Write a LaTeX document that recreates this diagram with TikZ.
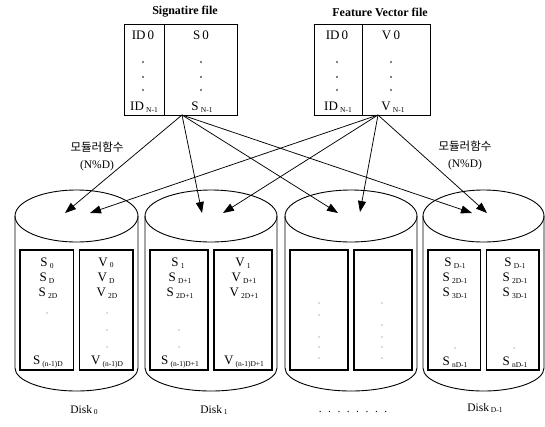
\documentclass[tikz,border=0pt]{standalone}
\usepackage{fontspec}
\setmainfont{Liberation Serif}
\newfontfamily\krfont{Noto Sans CJK KR}
\usetikzlibrary{arrows.meta}
% small lowered index written after a letter
\newcommand\lowsub[1]{\,\raisebox{-1.5pt}{\fontsize{7.5}{7.5}\selectfont #1}}

\begin{document}
\begin{tikzpicture}[x=1pt,y=-1pt,
  txt/.style={font=\fontsize{13}{13}\selectfont, inner sep=0pt},
  ttl/.style={font=\fontsize{12}{12}\selectfont\bfseries, inner sep=0pt},
  lbl/.style={font=\fontsize{11.5}{11.5}\selectfont, inner sep=0pt},
  kr/.style={font=\fontsize{11.5}{17}\selectfont, inner sep=0pt, align=center},
  frame/.style={draw, line width=0.9pt},
  slot/.style={draw, line width=1.2pt},
  link/.style={line width=0.75pt, -{Triangle[length=11pt,width=8pt]}},
  dotmark/.style={circle, fill=black!60, inner sep=0pt, minimum size=1.4pt},
  fdot/.style={circle, fill=black, inner sep=0pt, minimum size=1.8pt}
]
\useasboundingbox (0,0) rectangle (545,426);

% ---- source files ----
\node[ttl] (sigttl) at (185,12) {Signatire file};
\node[ttl] (vecttl) at (380,12) {Feature Vector file};

\draw[frame] (124,24) rectangle (237,115);
\draw[frame] (164,24) -- (164,115);
\draw[frame] (314,24) rectangle (430,115);
\draw[frame] (362,24) -- (362,115);

\node[txt] (sid0) at (143,35) {ID\,0};
\node[txt] (ss0)  at (201,35) {S\,0};
\node[txt] (sidn) at (144,107) {ID\lowsub{N-1}};
\node[txt] (ssn)  at (202,107) {S\lowsub{N-1}};
\node[txt] (vid0) at (337,35) {ID\,0};
\node[txt] (vv0)  at (391,35) {V\,0};
\node[txt] (vidn) at (338,107) {ID\lowsub{N-1}};
\node[txt] (vvn)  at (393,107) {V\lowsub{N-1}};
\foreach \x in {143,201,337,391}
  \foreach \y in {62,77,90}
    \node[fdot] at (\x,\y) {};

\coordinate (sigout) at (182,115);
\coordinate (vecout) at (378,115);

% ---- disks ----
\foreach \l/\r/\n in {15/138/0, 145/277/1, 285/417/2, 423/544/3} {
  \pgfmathsetmacro\cx{(\l+\r)/2}
  \pgfmathsetmacro\rx{(\r-\l)/2}
  \draw[frame] (\cx,216) ellipse[x radius=\rx pt, y radius=26pt];
  \draw[frame] (\l,216) -- (\l,368)
     arc[start angle=180, end angle=360, x radius=\rx pt, y radius=23pt] -- (\r,216);
  \draw[slot] (\l+5,250) rectangle (\cx-3,370);
  \draw[slot] (\cx+3,250) rectangle (\r-5,370);
}

% arrow targets on the disk tops
\coordinate (d0s) at (65,213);  \coordinate (d0v) at (90,213);
\coordinate (d1s) at (202,213); \coordinate (d1v) at (223,213);
\coordinate (d2s) at (338,213); \coordinate (d2v) at (360,212);
\coordinate (d3s) at (472,213); \coordinate (d3v) at (487,213);

\foreach \t in {d0s,d1s,d2s,d3s} \draw[link] (sigout) -- (\t);
\foreach \t in {d0v,d1v,d2v,d3v} \draw[link] (vecout) -- (\t);

% ---- disk contents ----
% Disk 0
\node[txt] (a1) at (47,263) {S\lowsub{0}};
\node[txt] (a2) at (47,278) {S\lowsub{D}};
\node[txt] (a3) at (48,293) {S\lowsub{2D}};
\node[txt] (a4) at (48,362) {S\lowsub{(n-1)D}};
\node[txt] (b1) at (106,263) {V\lowsub{0}};
\node[txt] (b2) at (106,278) {V\lowsub{D}};
\node[txt] (b3) at (107,293) {V\lowsub{2D}};
\node[txt] (b4) at (107,362) {V\lowsub{(n-1)D}};
\node[dotmark] at (47,313) {};
\foreach \y in {313,330,347} \node[dotmark] at (107,\y) {};
% Disk 1
\node[txt] (c1) at (178,263) {S\lowsub{1}};
\node[txt] (c2) at (180,278) {S\lowsub{D+1}};
\node[txt] (c3) at (180,293) {S\lowsub{2D+1}};
\node[txt] (c4) at (180,362) {S\lowsub{(n-1)D+1}};
\node[txt] (e1) at (243,263) {V\lowsub{1}};
\node[txt] (e2) at (244,278) {V\lowsub{D+1}};
\node[txt] (e3) at (244,293) {V\lowsub{2D+1}};
\node[txt] (e4) at (244,362) {V\lowsub{(n-1)D+1}};
\foreach \y in {330,347} \node[dotmark] at (179,\y) {};
% Disk 2
\foreach \y in {303,315,337,347,358} \node[dotmark] at (319,\y) {};
\foreach \y in {303,325,337,347,358} \node[dotmark] at (382,\y) {};
% Disk D-1
\node[txt] (f1) at (455,263) {S\lowsub{D-1}};
\node[txt] (f2) at (455,278) {S\lowsub{2D-1}};
\node[txt] (f3) at (455,293) {S\lowsub{3D-1}};
\node[txt] (f4) at (455,362) {S\lowsub{nD-1}};
\node[txt] (g1) at (515,263) {S\lowsub{D-1}};
\node[txt] (g2) at (515,278) {S\lowsub{2D-1}};
\node[txt] (g3) at (515,293) {S\lowsub{3D-1}};
\node[txt] (g4) at (515,362) {S\lowsub{nD-1}};
\node[dotmark] at (455,348) {};
\node[dotmark] at (514,348) {};

% ---- captions ----
\node[lbl] (disk0) at (84,410) {Disk\lowsub{0}};
\node[lbl] (disk1) at (214,410) {Disk\lowsub{1}};
\node[lbl] (diskd) at (485,408) {Disk\lowsub{D-1}};
\node[lbl] (gap) at (353,412) {.\hspace{6.5pt}.\hspace{6.5pt}.\hspace{6.5pt}.\hspace{6.5pt}.\hspace{6.5pt}.\hspace{6.5pt}.\hspace{6.5pt}.};

\node[kr] (modl) at (97,156) {{\krfont 모듈러함수}\\(N\%D)};
\node[kr] (modr) at (465,155) {{\krfont 모듈러함수}\\(N\%D)};
\end{tikzpicture}
\end{document}
